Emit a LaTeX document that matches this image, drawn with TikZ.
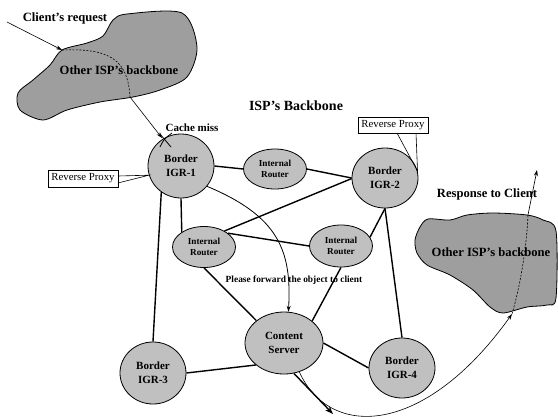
\documentclass[tikz,border=0pt]{standalone}
\usepackage{fontspec}
\setmainfont{Liberation Serif}
\usetikzlibrary{shapes.geometric,arrows.meta,calc}
\definecolor{nodegray}{RGB}{192,192,192}
\definecolor{cloudgray}{RGB}{158,158,158}
\tikzset{
  netnode/.style={ellipse,draw=black,line width=0.8pt,fill=nodegray,inner sep=0pt,align=center,font=\bfseries\fontsize{11}{14}\selectfont},
  irnode/.style={netnode,font=\bfseries\fontsize{9.2}{11.5}\selectfont},
  link/.style={line width=1.4pt},
  cloud/.style={draw=black,line width=0.8pt,fill=cloudgray},
  proxybox/.style={draw=black,line width=0.6pt,fill=white,inner sep=1.5pt,font=\fontsize{10.8}{12}\selectfont},
  lbl/.style={font=\bfseries\fontsize{12.6}{14}\selectfont,inner sep=0pt},
  flow/.style={line width=0.6pt},
  tip/.style={-{Stealth[length=6pt,width=4pt]}}
}
\begin{document}
\begin{tikzpicture}[x=1pt,y=-1pt]
\useasboundingbox (0,0) rectangle (558,416);
% clouds
\draw[cloud] plot[smooth cycle,tension=0.5] coordinates {(62,50) (87,43) (103,36) (113,20) (127,14) (182,13) (197,47) (187,77) (160,90) (133,97) (100,102) (67,110) (43,120) (20,110) (18,93) (33,80) (50,65)};
\draw[cloud] plot[smooth cycle,tension=0.5] coordinates {(428,219) (450,220) (467,215) (493,213) (527,215) (543,220) (556,231) (556,298) (547,305) (527,307) (503,313) (490,307) (473,290) (450,275) (427,265) (417,253) (415,240) (420,227)};
\node[lbl] (cloudA) at (119,70) {Other ISP’s backbone};
\node[lbl] (cloudB) at (491,252) {Other ISP’s backbone};
% nodes
\node[netnode,minimum width=66pt,minimum height=64pt] (igr1) at (181,166) {Border\\IGR-1};
\node[irnode,minimum width=63pt,minimum height=40pt] (ir1) at (275,169) {Internal\\Router};
\node[netnode,minimum width=66pt,minimum height=60pt] (igr2) at (385,178) {Border\\IGR-2};
\node[irnode,minimum width=63pt,minimum height=41pt] (ir2) at (204,247) {Internal\\Router};
\node[irnode,minimum width=63pt,minimum height=42pt] (ir3) at (341,246) {Internal\\Router};
\node[netnode,minimum width=78pt,minimum height=62pt] (cs) at (284,343) {Content\\Server};
\node[netnode,minimum width=66pt,minimum height=62pt] (igr3) at (153,373) {Border\\IGR-3};
\node[netnode,minimum width=66pt,minimum height=60pt] (igr4) at (402,368) {Border\\IGR-4};
% links
\draw[link] (igr1.east) -- (ir1.west);
\draw[link] (ir1.east) -- (igr2.west);
\draw[link] (igr1.south) -- (ir2.146);
\draw[link] (igr1.233) -- (igr3.north);
\draw[link] (ir2.38) -- (igr2.181);
\draw[link] (ir2.30) -- (ir3.180);
\draw[link] (ir3.17) -- (igr2.south);
\draw[link] (igr2.south) -- (igr4.north);
\draw[link] (ir2.south) -- (cs.141);
\draw[link] (ir3.south) -- (cs.38);
\draw[link] (cs.218) -- (igr3.east);
\draw[link] (cs.east) -- (igr4.west);
% labels
\node[lbl] (req) at (65,18) {Client’s request};
\node[font=\bfseries\fontsize{14}{16}\selectfont,inner sep=0pt] (isp) at (296,106) {ISP’s Backbone};
\node[font=\bfseries\fontsize{11}{12}\selectfont,inner sep=0pt] (miss) at (192,128) {Cache miss};
\node[lbl] (resp) at (487,194) {Response to Client};
\node[font=\bfseries\fontsize{9.4}{11}\selectfont,inner sep=0pt] (fwd) at (294,280) {Please forward the object to client};
% reverse proxies
\node[proxybox,minimum width=70pt,minimum height=17pt] (rpL) at (83,178.5) {Reverse Proxy};
\node[proxybox,minimum width=70pt,minimum height=16pt] (rpR) at (393,125) {Reverse Proxy};
\draw[line width=0.6pt] (118,176) -- (igr1.196) -- (118,183);
\draw[line width=0.6pt] (397,133) -- (igr2.12) -- (416,133);
% request path
\coordinate (cstart) at (7,22);
\coordinate (centry) at (62,50);
\coordinate (cexit) at (130,97);
\draw[flow,tip] (cstart) -- (centry);
\draw[flow,dashed,dash pattern=on 2pt off 1.5pt] (centry) .. controls (110,48) and (128,60) .. (cexit);
\coordinate (hit) at (162,138);
\draw[flow,tip] (cexit) -- (hit);
% cache miss cross
\coordinate (x1) at (160,134);
\coordinate (x2) at (171,147);
\coordinate (x3) at (160,147);
\coordinate (x4) at (172,133);
\draw[line width=0.8pt] (x1) -- (x2);
\draw[line width=0.8pt] (x3) .. controls (164,139) .. (x4);
% forward to content server
\draw[line width=0.8pt,tip] (igr1.-38) .. controls (278,216) and (292,250) .. (cs.82);
% response path
\coordinate (rentry) at (512,314);
\coordinate (rexit) at (528,215);
\coordinate (rend) at (537,170);
\draw[flow,tip] (cs.-62) .. controls (330,440) and (425,436) .. (rentry);
\draw[flow,dashed,dash pattern=on 2pt off 1.5pt] (rentry) .. controls (522,280) and (527,240) .. (rexit);
\draw[flow,tip] (rexit) -- (rend);
% outgoing thick arrow
\coordinate (outend) at (333,414);
\draw[line width=1.4pt,-{Stealth[length=8pt,width=6pt]}] (cs.-72) -- (outend);
\end{tikzpicture}
\end{document}
